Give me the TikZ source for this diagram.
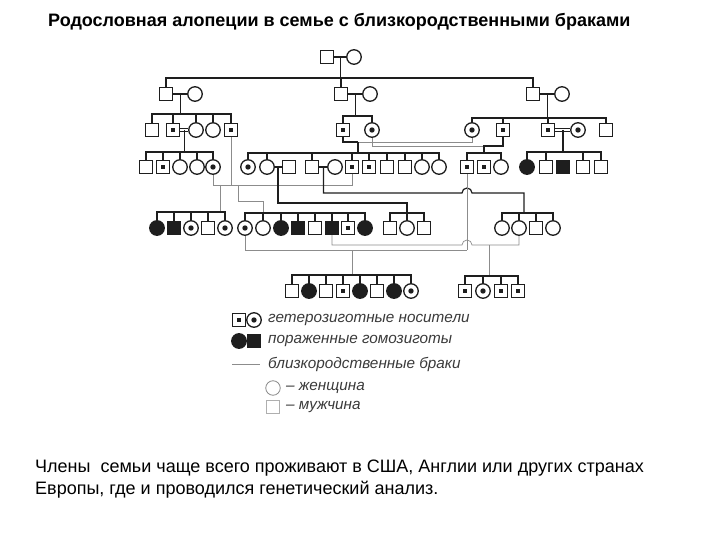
\documentclass[tikz,border=0pt]{standalone}
\usepackage{fontspec}
\setmainfont{Liberation Sans}
\usetikzlibrary{calc}
\definecolor{inkblack}{HTML}{1E1E1E}
\definecolor{kingray}{HTML}{8C8C8C}
\definecolor{legtext}{HTML}{3A3A3A}
\tikzset{
  ml/.style={draw=inkblack, line width=1.3pt, fill=white, rectangle, minimum size=13pt, inner sep=0pt},
  fe/.style={draw=inkblack, line width=1.3pt, fill=white, circle, minimum size=14.5pt, inner sep=0pt},
  mc/.style={ml, path picture={\fill[inkblack] ($(path picture bounding box.center)+(-2.3pt,-2.3pt)$) rectangle ++(4.6pt,4.6pt);}},
  fc/.style={fe, path picture={\fill[inkblack] (path picture bounding box.center) circle (2.7pt);}},
  ma/.style={ml, fill=inkblack},
  fa/.style={fe, fill=inkblack},
  lnk/.style={draw=inkblack, line width=1.2pt},
  kin/.style={draw=kingray, line width=0.7pt},
  cons/.style={draw=inkblack, line width=0.8pt, double=white, double distance=1.8pt},
  legend/.style={anchor=west, inner sep=0pt, font=\fontsize{15.3}{17}\selectfont\itshape, text=legtext}
}
\begin{document}
\begin{tikzpicture}[x=1pt, y=-1pt]

  % frame of the page
  \useasboundingbox (0,0) rectangle (720,540);

  % title
  \node[anchor=west, inner sep=0pt, font=\fontsize{18}{20}\selectfont\bfseries] (title) at (48,22)
    {Родословная алопеции в семье с близкородственными браками};

  % generation I
  \node[ml] (I1) at (327,57) {};
  \node[fe] (I2) at (354,57) {};

  % generation II
  \foreach \nm/\x/\st in {II1/166/ml, II2/195/fe, II3/341/ml, II4/370/fe, II5/533/ml, II6/562/fe}
    \node[\st] (\nm) at (\x,94) {};

  % generation III
  \foreach \nm/\x/\st in {III1/152/ml, III2/173/mc, III3/196/fe, III4/213/fe, III5/231/mc,
                          III6/343/mc, III7/372/fc,
                          III8/472/fc, III9/503/mc, III10/548/mc, III11/578/fc, III12/606/ml}
    \node[\st] (\nm) at (\x,130) {};

  % generation IV
  \foreach \nm/\x/\st in {IV1/146/ml, IV2/163/mc, IV3/180/fe, IV4/197/fe, IV5/213/fc,
                          IV6/248/fc, IV7/267/fe, IV8/289/ml, IV9/312/ml, IV10/335/fe, IV11/352/mc,
                          IV12/369/mc, IV13/387/ml, IV14/405/ml, IV15/422/fe, IV16/439/fe,
                          IV17/467/mc, IV18/484/mc, IV19/501/fe,
                          IV20/527/fa, IV21/546/ml, IV22/563/ma, IV23/583/ml, IV24/601/ml}
    \node[\st] (\nm) at (\x,167) {};

  % generation V
  \foreach \nm/\x/\st in {V1/157/fa, V2/174/ma, V3/191/fc, V4/208/ml, V5/225/fc,
                          V6/245/fc, V7/263/fe, V8/281/fa, V9/298/ma, V10/315/ml, V11/332/ma,
                          V12/348/mc, V13/365/fa,
                          V14/390/ml, V15/407/fe, V16/424/ml,
                          V17/502/fe, V18/519/fe, V19/536/ml, V20/553/fe}
    \node[\st] (\nm) at (\x,228) {};

  % generation VI
  \foreach \nm/\x/\st in {VI1/292/ml, VI2/309/fa, VI3/326/ml, VI4/343/mc, VI5/360/fa,
                          VI6/377/ml, VI7/394/fa, VI8/411/fc,
                          VI9/465/mc, VI10/483/fc, VI11/501/mc, VI12/518/mc}
    \node[\st] (\nm) at (\x,291) {};

  % I -> II
  \draw[lnk] (I1) -- (I2);
  \draw[lnk] ($(I1)!.5!(I2)$) -- +(0,21);
  \draw[lnk] (II1.north) |- (II5 |- 0,78) -- (II5.north);
  \draw[lnk] (II3.north) -- (II3 |- 0,78);

  % II -> III
  \foreach \a/\b/\h in {II1/II2/20, II3/II4/22, II5/II6/24} {
    \draw[lnk] (\a) -- (\b);
    \draw[lnk] ($(\a)!.5!(\b)$) -- +(0,\h);
  }
  \draw[lnk] (III1.north) |- (III5 |- 0,114) -- (III5.north);
  \foreach \n in {III2,III3,III4} \draw[lnk] (\n.north) -- (\n |- 0,114);
  \draw[lnk] (III6.north) |- (III7 |- 0,116) -- (III7.north);
  \draw[lnk] (III8.north) |- (III12 |- 0,118) -- (III12.north);
  \foreach \n in {III9,III10} \draw[lnk] (\n.north) -- (\n |- 0,118);

  % III -> IV
  \draw[cons] (III2) -- (III3);
  \draw[lnk] ($(III2)!.5!(III3)$) -- +(0,22);
  \draw[lnk] (IV1.north) |- (IV5 |- 0,152) -- (IV5.north);
  \foreach \n in {IV2,IV3,IV4} \draw[lnk] (\n.north) -- (\n |- 0,152);

  \coordinate (c3a) at (358,142);
  \draw[lnk] (III6.south) |- (c3a);
  \draw[kin] (c3a) -| (III8.south);
  \draw[lnk] (c3a) -- (c3a |- 0,153);
  \draw[lnk] (IV6.north) |- (IV16 |- 0,153) -- (IV16.north);
  \foreach \n in {IV7,IV9,IV11,IV12,IV13,IV14,IV15} \draw[lnk] (\n.north) -- (\n |- 0,153);

  \coordinate (c3b) at (484,146);
  \draw[kin] (III7.south) |- (III9 |- 0,146);
  \draw[lnk] (III9.south) -- (III9 |- 0,146) -- (c3b) -- (c3b |- 0,153);
  \draw[lnk] (IV17.north) |- (IV19 |- 0,153) -- (IV19.north);

  \draw[cons] (III10) -- (III11);
  \draw[lnk] ($(III10)!.5!(III11)$) -- +(0,22);
  \draw[lnk] (IV20.north) |- (IV24 |- 0,152) -- (IV24.north);
  \foreach \n in {IV21,IV23} \draw[lnk] (\n.north) -- (\n |- 0,152);

  % IV -> V
  \draw[kin] (IV5.south) |- (IV11 |- 0,185) -- (IV11.south);
  \draw[kin] (III5.south) -- (III5 |- 0,185);
  \coordinate (c4c) at (220,185);
  \draw[kin] (c4c) -- (c4c |- 0,212);
  \draw[lnk] (V1.north) |- (V5 |- 0,212) -- (V5.north);
  \foreach \n in {V2,V3,V4} \draw[lnk] (\n.north) -- (\n |- 0,212);

  \coordinate (c4d) at (238,185);
  \draw[kin] (c4d) |- (V7 |- 0,201) -- (V7 |- 0,213);
  \draw[lnk] (V6.north) |- (V13 |- 0,213) -- (V13.north);
  \foreach \n in {V7,V8,V9,V10,V11,V12} \draw[lnk] (\n.north) -- (\n |- 0,213);

  \draw[lnk] (IV7) -- (IV8);
  \draw[lnk] ($(IV7)!.5!(IV8)$) |- (V15 |- 0,203) -- (V15.north);
  \draw[lnk] (V14.north) |- (V16 |- 0,213) -- (V16.north);

  \draw[lnk] (IV9) -- (IV10);
  \coordinate (c4b) at (524,193);
  \draw[lnk] ($(IV9)!.5!(IV10)$) |- (462,193) arc[start angle=180, end angle=0, radius=5pt] -- (c4b) -- (c4b |- 0,213);
  \draw[lnk] (V17.north) |- (V20 |- 0,213) -- (V20.north);
  \foreach \n in {V18,V19} \draw[lnk] (\n.north) -- (\n |- 0,213);

  % V -> VI
  \draw[kin] (IV17.south) -- (IV17 |- 0,250);
  \draw[kin] (V6.south) |- (IV17 |- 0,250);
  \coordinate (c5a) at (352,250);
  \draw[kin] (c5a) -- (c5a |- 0,275);
  \draw[lnk] (VI1.north) |- (VI8 |- 0,275) -- (VI8.north);
  \foreach \n in {VI2,VI3,VI4,VI5,VI6,VI7} \draw[lnk] (\n.north) -- (\n |- 0,275);

  \coordinate (c5b) at (489,245);
  \draw[kin] (V11.south) |- (462,245) arc[start angle=180, end angle=0, radius=5pt] -- (V18 |- 0,245) -- (V18.south);
  \draw[kin] (c5b) -- (c5b |- 0,276);
  \draw[lnk] (VI9.north) |- (VI12 |- 0,276) -- (VI12.north);
  \foreach \n in {VI10,VI11} \draw[lnk] (\n.north) -- (\n |- 0,276);

  % legend
  \node[mc] (lg1) at (239,320) {};
  \node[fc] (lg2) at (254,320) {};
  \node[fa] (lg3) at (239,341) {};
  \node[ma] (lg4) at (254,341) {};
  \coordinate (lg5) at (232,364);
  \draw[kin] (lg5) -- +(28,0);
  \node[fe, draw=kingray, line width=0.8pt] (lg6) at (273,388) {};
  \node[ml, draw=kingray!70, line width=0.8pt] (lg7) at (273,407) {};
  \node[legend] (t1) at (268,320) {гетерозиготные носители};
  \node[legend] (t2) at (268,341) {пораженные гомозиготы};
  \node[legend] (t3) at (268,364) {близкородственные браки};
  \node[legend] (t4) at (286,388) {– женщина};
  \node[legend] (t5) at (286,407) {– мужчина};

  % note below
  \node[anchor=west, inner sep=0pt, align=left, font=\fontsize{18}{22}\selectfont] (note) at (35,479)
    {Члены\ \ семьи чаще всего проживают в США, Англии или других странах\\
     Европы, где и проводился генетический анализ.};

\end{tikzpicture}
\end{document}
